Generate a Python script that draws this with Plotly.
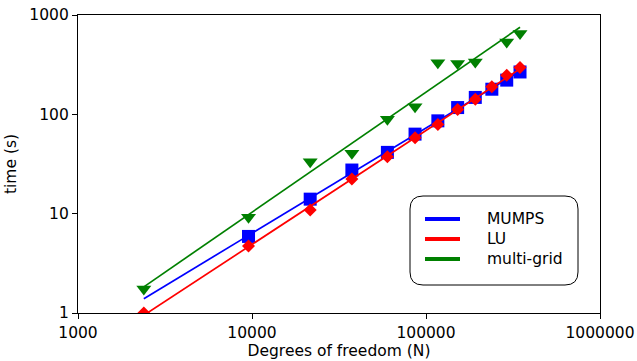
import numpy as np
import plotly.graph_objects as go

# Problem sizes (degrees of freedom) and solve times in seconds
dof = [2390, 9550, 21600, 37500, 60000, 86500, 117000, 152000, 192000, 239000, 291000, 347000]
time_mumps = [None, 5.9, 14.0, 27.5, 41.4, 63.2, 86, 117, 148, 179, 221, 267]
time_lu = [1.0, 4.73, 10.9, 22.3, 37.4, 58, 79, 112, 142, 189, 248, 296]
time_mg = [1.74, 9.2, 33.3, 40.5, 89, 119, 330, 325, 337, None, 535, 650]

series_names = ["MUMPS", "LU", "multi-grid"]
series_colors = ["#0000ff", "#ff0000", "#008000"]
series_symbols = ["square", "diamond", "triangle-down"]
series_sizes = [13, 10, 13]

x_tickvals = [1000, 10000, 100000, 1000000]
x_ticktext = ["1000", "10000", "100000", "1000000"]
y_tickvals = [1, 10, 100, 1000]
y_ticktext = ["1", "10", "100", "1000"]

FONT = "DejaVu Sans"
FS = 15.5

fig = go.Figure()


def power_fit(xs, ys):
    """Least-squares power law y = a*x^b fitted in log-log space."""
    pts = [(x, y) for x, y in zip(xs, ys) if y is not None]
    lx = np.log10([p[0] for p in pts])
    ly = np.log10([p[1] for p in pts])
    b, a = np.polyfit(lx, ly, 1)
    xs_all = np.array(xs, dtype=float)
    return xs_all, 10 ** (a + b * np.log10(xs_all))


for name, ys, col, sym, size in zip(series_names, [time_mumps, time_lu, time_mg],
                                     series_colors, series_symbols, series_sizes):
    fx, fy = power_fit(dof, ys)
    fig.add_trace(go.Scatter(x=fx, y=fy, mode="lines", line=dict(color=col, width=1.7),
                             showlegend=False, hoverinfo="skip"))
    fig.add_trace(go.Scatter(x=dof, y=ys, mode="markers",
                             marker=dict(symbol=sym, size=size, color=col, line=dict(width=0)),
                             showlegend=False, name=name))

# Plot-area pixel geometry, used to place the legend box
L, R, T, B = 78, 37, 15, 48
W, H = 637, 361
pw, ph = W - L - R, H - T - B


def px_to_paper(px, py):
    return (px - L) / pw, 1 - (py - T) / ph


# Rounded legend frame
x0, y0 = px_to_paper(410, 196)
x1, y1 = px_to_paper(578, 285)
rx, ry = 13 / pw, 13 / ph
path = (f"M{x0 + rx},{y0} L{x1 - rx},{y0} Q{x1},{y0} {x1},{y0 - ry} "
        f"L{x1},{y1 + ry} Q{x1},{y1} {x1 - rx},{y1} "
        f"L{x0 + rx},{y1} Q{x0},{y1} {x0},{y1 + ry} "
        f"L{x0},{y0 - ry} Q{x0},{y0} {x0 + rx},{y0} Z")
fig.add_shape(type="path", path=path, xref="paper", yref="paper",
              line=dict(color="black", width=1), fillcolor="white", layer="above")

# Legend rows: line sample + label
for i, (name, col) in enumerate(zip(series_names, series_colors)):
    row_y = 219 + 20 * i
    sx0, sy = px_to_paper(425, row_y)
    sx1, _ = px_to_paper(460, row_y)
    fig.add_shape(type="line", xref="paper", yref="paper", x0=sx0, x1=sx1, y0=sy, y1=sy,
                  line=dict(color=col, width=4), layer="above")
    tx, _ = px_to_paper(485, row_y)
    fig.add_annotation(x=tx, y=sy, xref="paper", yref="paper", text=name, showarrow=False,
                       xanchor="left", yanchor="middle",
                       font=dict(family=FONT, size=FS, color="black"))

axis_common = dict(
    type="log", showgrid=False, zeroline=False, showline=True, linecolor="black",
    linewidth=1.2, mirror=True, ticks="outside", ticklen=5, tickwidth=1.2,
    tickcolor="black", tickfont=dict(family=FONT, size=FS, color="black"),
    automargin=False,
)

fig.update_layout(
    width=W, height=H,
    margin=dict(l=L, r=R, t=T, b=B),
    paper_bgcolor="white", plot_bgcolor="white",
    font=dict(family=FONT, size=FS, color="black"),
    showlegend=False,
    xaxis=dict(range=[3, 6], tickvals=x_tickvals, ticktext=x_ticktext,
               title=dict(text="Degrees of freedom (N)", font=dict(family=FONT, size=FS), standoff=4),
               **axis_common),
    yaxis=dict(range=[0, 3], tickvals=y_tickvals, ticktext=y_ticktext,
               title=dict(text="time (s)", font=dict(family=FONT, size=FS), standoff=8),
               **axis_common),
)

fig.write_html("out.html")
